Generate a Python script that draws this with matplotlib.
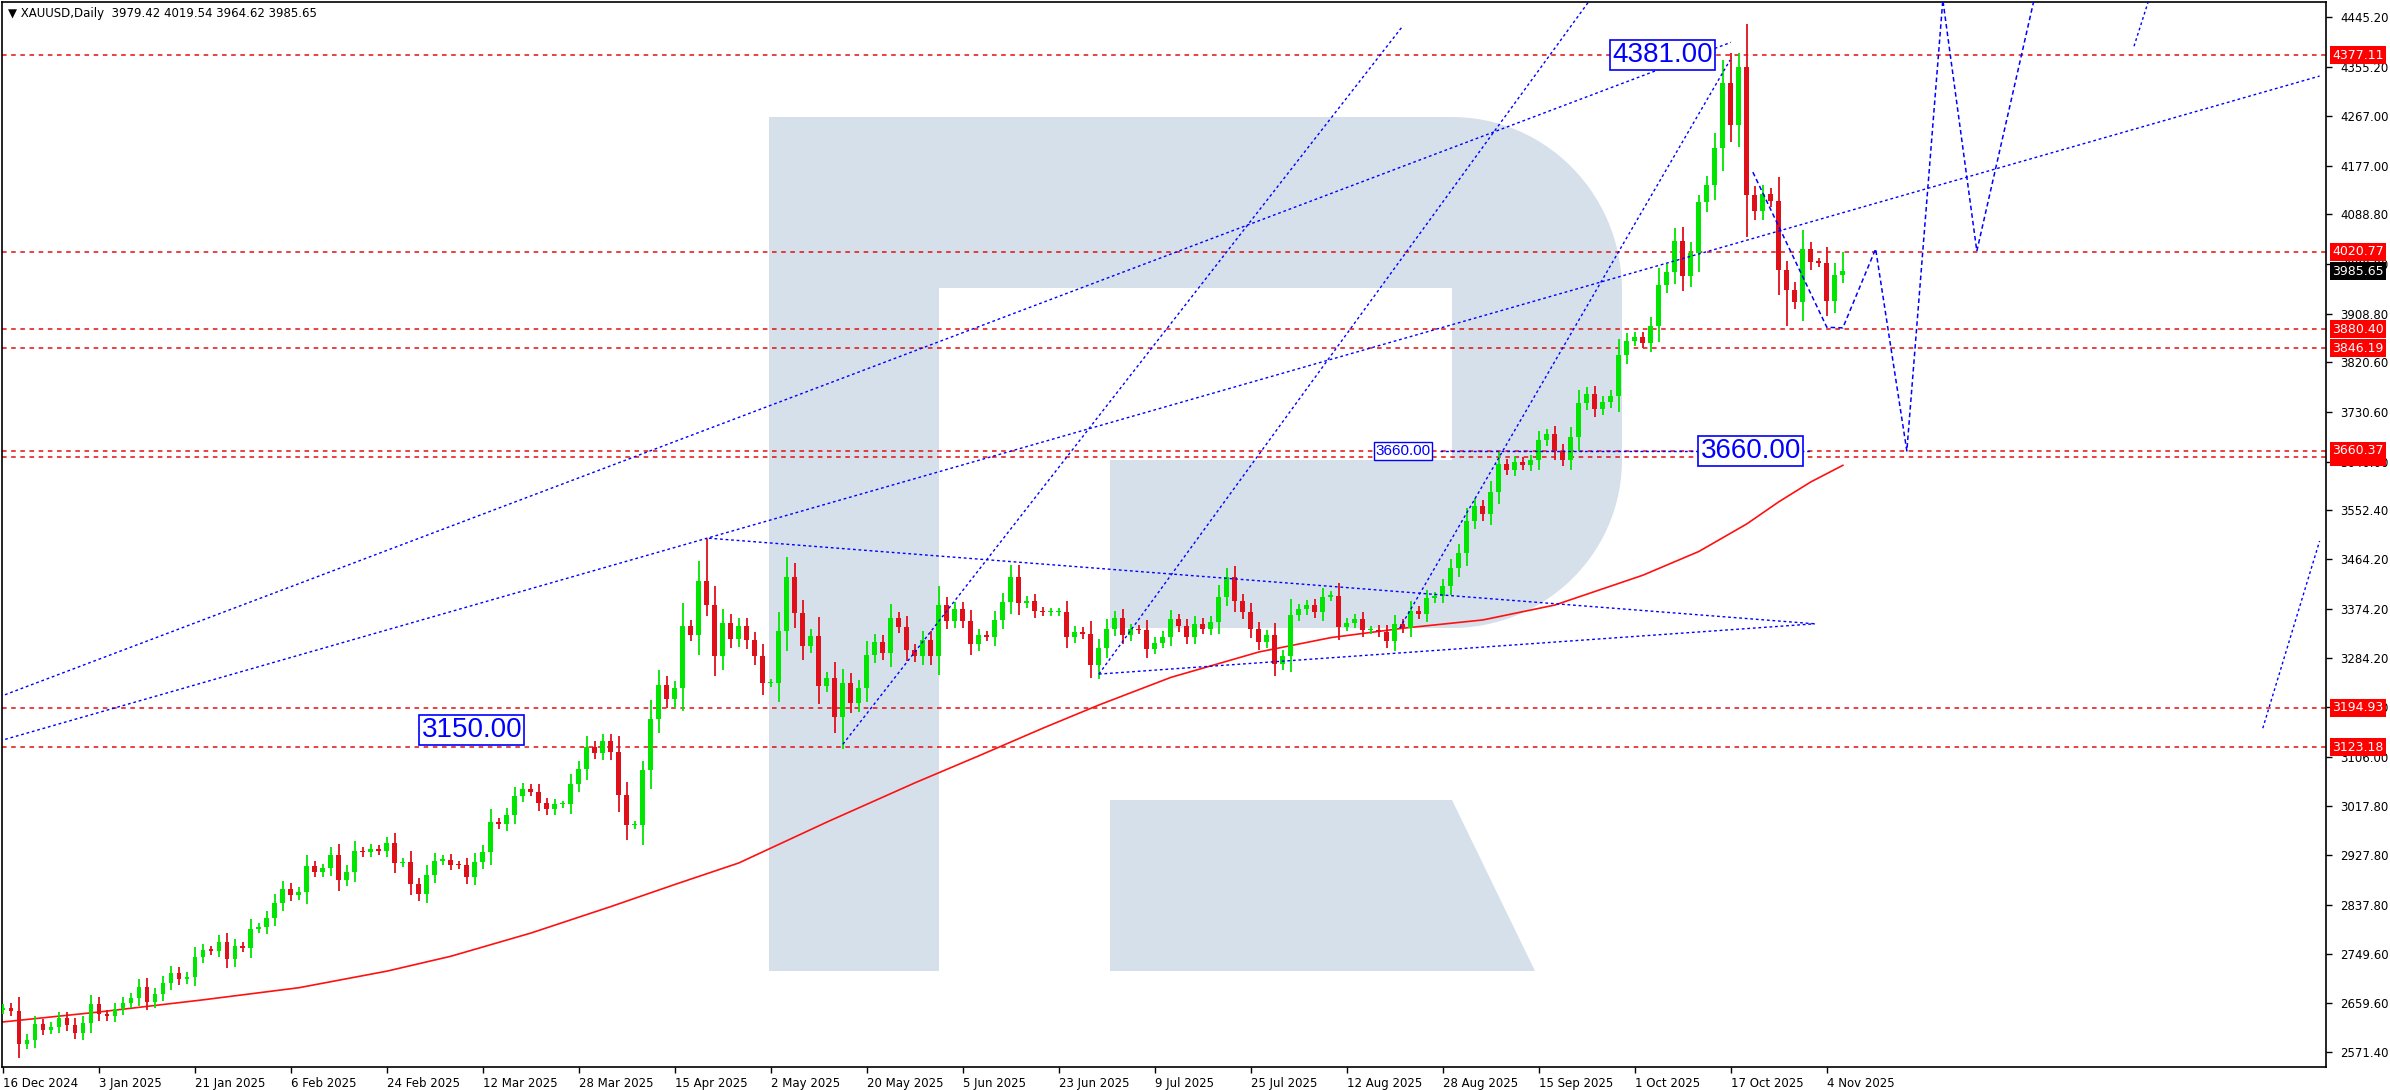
import numpy as np
import matplotlib
matplotlib.use("Agg")
import matplotlib.pyplot as plt
from matplotlib.patches import Polygon
import matplotlib.transforms as mtrans

# ---------------- data ----------------
closes = [2651, 2646, 2586, 2594, 2622, 2612, 2617, 2633, 2621, 2606, 2624,
          2658, 2640,
          2636, 2649, 2661, 2669, 2690,
          2663, 2677, 2697, 2715, 2703,
          2708, 2744, 2756, 2755, 2771,
          2740, 2763, 2760, 2795, 2798,
          2815, 2842, 2867, 2856, 2861,
          2908, 2898, 2904, 2928, 2883,
          2898, 2935, 2933, 2939, 2936,
          2950, 2914, 2916, 2875, 2858,
          2893, 2918, 2920, 2911, 2910,
          2889, 2916, 2934, 2988, 2984,
          3001, 3035, 3048, 3043, 3022,
          3011, 3020, 3020, 3057, 3084,
          3124, 3113, 3134, 3114, 3037,
          2982, 2983, 3082, 3175, 3237,
          3210, 3230, 3343, 3327,
          3425, 3381, 3288, 3349, 3319,
          3343, 3317, 3288, 3239, 3240,
          3334, 3431, 3366, 3306, 3325,
          3235, 3249, 3178, 3240, 3203,
          3230, 3290, 3314, 3295, 3357,
          3342, 3300, 3288, 3318, 3289,
          3381, 3353, 3373, 3352, 3310,
          3326, 3323, 3354, 3386, 3432,
          3384, 3389, 3370, 3368, 3368,
          3368, 3323, 3333, 3328, 3273,
          3303, 3338, 3357, 3326, 3337,
          3336, 3302, 3313, 3324, 3355,
          3343, 3324, 3347, 3338, 3350,
          3396, 3431, 3388, 3368, 3337,
          3314, 3326, 3275, 3289, 3363,
          3373, 3381, 3368, 3396, 3398,
          3342, 3348, 3356, 3336, 3336,
          3332, 3315, 3347, 3339, 3371,
          3365, 3393, 3397, 3416, 3448,
          3476, 3533, 3560, 3545, 3586,
          3636, 3626, 3640, 3634, 3643,
          3679, 3690, 3660, 3644, 3685,
          3746, 3763, 3736, 3749, 3760,
          3833, 3859, 3866, 3856, 3886,
          3961, 3985, 4040, 3976, 4018,
          4110, 4142, 4209, 4326, 4250,
          4356, 4124, 4094, 4125, 4112,
          3987, 3952, 3930, 4025, 4002,
          4001, 3932, 3979.42, 3985.65]
first_open = 2648
high_override = {88: 3500, 217: 4381, 230: 4019.54, 212: 4123, 216: 4380, 80: 3099}
low_override = {105: 3120, 78: 2956, 137: 3247, 223: 3886, 230: 3964.62, 84: 3194}

ma_idx = [0, 12, 25, 37, 48, 56, 66, 76, 84, 92, 103, 114, 122, 130, 137, 146, 157,
          166, 175, 185, 194, 205, 212, 218, 222, 226, 230]
ma_val = [2626, 2644, 2666, 2688, 2718, 2745, 2787, 2835, 2875, 2914, 2988, 3059,
          3108, 3158, 3200, 3250, 3296, 3322, 3339, 3354, 3381, 3435, 3478, 3528,
          3568, 3604, 3634]

date_labels = ['16 Dec 2024', '3 Jan 2025', '21 Jan 2025', '6 Feb 2025', '24 Feb 2025',
               '12 Mar 2025', '28 Mar 2025', '15 Apr 2025', '2 May 2025', '20 May 2025',
               '5 Jun 2025', '23 Jun 2025', '9 Jul 2025', '25 Jul 2025', '12 Aug 2025',
               '28 Aug 2025', '15 Sep 2025', '1 Oct 2025', '17 Oct 2025', '4 Nov 2025']
price_ticks = [4445.20, 4355.20, 4267.00, 4177.00, 4088.80, 3998.80, 3908.80, 3820.60,
               3730.60, 3640.60, 3552.40, 3464.20, 3374.20, 3284.20, 3196.00, 3106.00,
               3017.80, 2927.80, 2837.80, 2749.60, 2659.60, 2571.40]
red_levels = [4377.11, 4020.77, 3880.40, 3846.19, 3649.83, 3660.37, 3194.93, 3123.18]
last_price = 3985.65

# trend lines (bar index, price)
trend_lines = [
    [(-0.4, 3215), (216, 4400)],
    [(-0.4, 3135), (289.6, 4339)],
    [(88.25, 3502), (226.5, 3347)],
    [(137, 3256), (226.5, 3347)],
    [(105, 3129), (174.9, 4428)],
    [(137, 3256), (198.4, 4477)],
    [(174.6, 3339), (215.9, 4368)],
    [(179.6, 3660), (225.9, 3660)],
    [(266.4, 4393), (268.25, 4477)],
    [(282.5, 3158), (289.6, 3497)],
]
forecast = [(218.75, 4165), (228, 3884), (230, 3883), (234.1, 4026), (238, 3660),
            (242.5, 4477), (246.75, 4022), (253.9, 4477)]

labels_big = [("4381.00", 207.5, 4377), ("3660.00", 218.5, 3660), ("3150.00", 58.6, 3155)]
label_small = ("3660.00", 175.0, 3660)

# ---------------- figure ----------------
W, H = 2390, 1090
fig = plt.figure(figsize=(W / 100, H / 100), dpi=100)
ax = fig.add_axes([2 / W, 1 - 1067 / H, (2326 - 2) / W, (1067 - 2) / H])
ax.set_xlim(-0.125, 290.4)
ax.set_ylim(2544.4, 4473.1)

def px(x, y):
    return (x / W, 1 - y / H)

pts = [(769, 117), (1452, 117)]
for a in np.linspace(np.pi / 2, 0, 30):
    pts.append((1452 + 170 * np.cos(a), 290 - 173 * np.sin(a)))
for a in np.linspace(0, -np.pi / 2, 30):
    pts.append((1452 + 170 * np.cos(a), 460 - 168 * np.sin(a)))
pts += [(1110, 628), (1110, 460), (1452, 460), (1452, 288), (939, 288), (939, 971), (769, 971)]
logo_c = '#d5e0eb'
ax.add_patch(Polygon([px(*p) for p in pts], closed=True, transform=fig.transFigure,
                     facecolor=logo_c, edgecolor='none', zorder=0.5))
leg = [(1110, 800), (1452, 800), (1535, 971), (1110, 971)]
ax.add_patch(Polygon([px(*p) for p in leg], closed=True, transform=fig.transFigure,
                     facecolor=logo_c, edgecolor='none', zorder=0.5))

for lv in red_levels:
    ax.axhline(lv, color='#e01010', lw=1.1, ls=(0, (3, 3)), zorder=1)

ax.plot(ma_idx, ma_val, color='#ff1010', lw=1.2, zorder=2)

n = len(closes)
opens = [first_open] + closes[:-1]
green, red = '#00e600', '#e0101a'
for i in range(n):
    o, c = opens[i], closes[i]
    col = green if c >= o else red
    hi = high_override.get(i, max(o, c) + 0.3 * abs(c - o) + 7)
    lo = low_override.get(i, min(o, c) - 0.3 * abs(c - o) - 7)
    ax.vlines(i, lo, hi, color=col, lw=1.3, zorder=3)
    b = abs(c - o)
    ax.bar(i, max(b, 2.5), bottom=min(o, c), width=0.62, color=col, lw=0, zorder=4)

for ln in trend_lines:
    xs, ys = zip(*ln)
    ax.plot(xs, ys, color='#0000ff', lw=1.0, ls=(0, (2, 2)), zorder=5)
xs, ys = zip(*forecast)
ax.plot(xs, ys, color='#0000ff', lw=1.1, ls=(0, (3, 2)), zorder=5)

for t, x, y in labels_big:
    ax.text(x, y, t, color='#0000ff', fontsize=20, family='Liberation Sans',
            ha='center', va='center', zorder=6,
            bbox=dict(boxstyle='square,pad=0.08', fc='white', ec='#0000ff', lw=1.2))
t, x, y = label_small
ax.text(x, y, t, color='#0000ff', fontsize=11, family='Liberation Sans',
        ha='center', va='center', zorder=6,
        bbox=dict(boxstyle='square,pad=0.1', fc='white', ec='#0000ff', lw=1.0))

ax.set_facecolor('white')
for s in ax.spines.values():
    s.set_color('black')
    s.set_linewidth(1.2)
ax.yaxis.tick_right()
ax.set_yticks(price_ticks)
ax.set_yticklabels([f"{v:.2f}" for v in price_ticks])
ax.set_xticks(list(range(0, 12 * len(date_labels), 12)))
ax.set_xticklabels(date_labels, ha='left')
ax.tick_params(axis='both', labelsize=8.5, length=4, width=1, color='black', pad=3)
ax.tick_params(axis='y', pad=6)

yt = mtrans.blended_transform_factory(ax.transAxes, ax.transData)
for lv in red_levels:
    ax.text(1.0 + 6 / 2324, lv, f"{lv:.2f}", transform=yt, color='white', fontsize=9,
            va='center', ha='left', clip_on=False, zorder=10,
            bbox=dict(boxstyle='square,pad=0.2', fc='#ff0000', ec='none'))
ax.text(1.0 + 6 / 2324, last_price, f"{last_price:.2f}", transform=yt, color='white',
        fontsize=9, va='center', ha='left', clip_on=False, zorder=10,
        bbox=dict(boxstyle='square,pad=0.2', fc='black', ec='none'))

fig.text(8 / W, 1 - 14 / H, "\u25bc XAUUSD,Daily  3979.42 4019.54 3964.62 3985.65",
         fontsize=8.5, va='center', ha='left', color='black')

fig.savefig('out.png', dpi=100, facecolor='white')
